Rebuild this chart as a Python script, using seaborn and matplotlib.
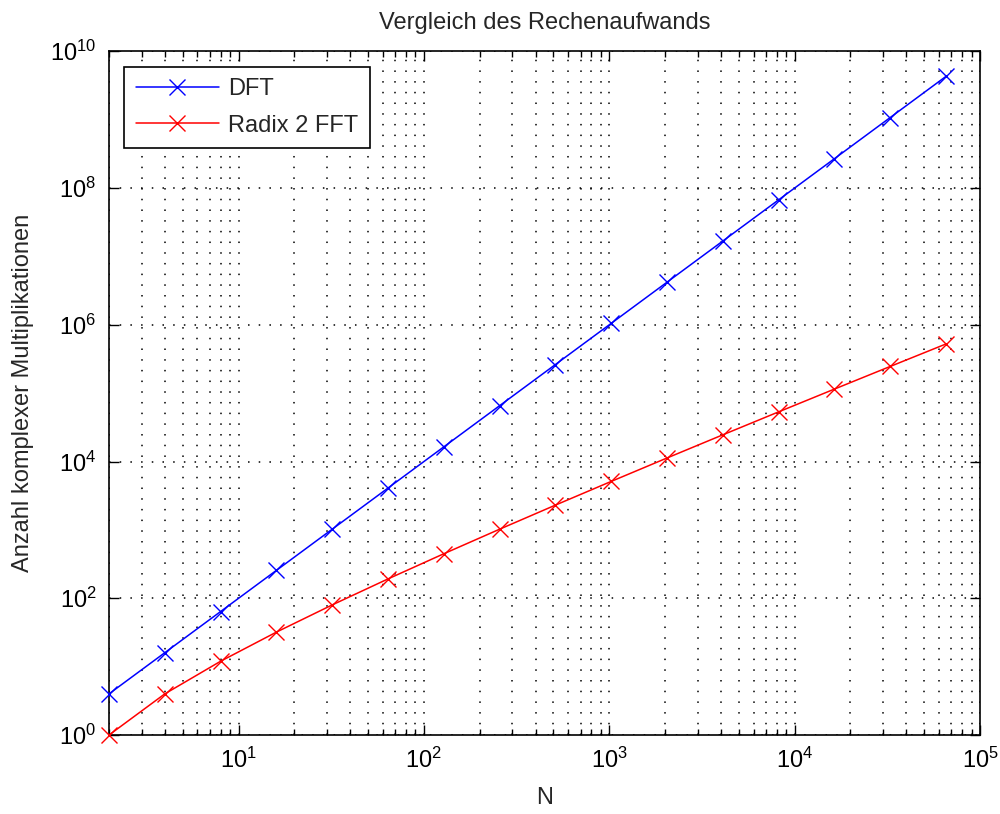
import matplotlib
matplotlib.use("Agg")
import matplotlib.pyplot as plt
import matplotlib.ticker as mticker
import pandas as pd
import seaborn as sns

# Punktanzahl N = 2^1 ... 2^16
n_werte = [2, 4, 8, 16, 32, 64, 128, 256, 512, 1024, 2048, 4096, 8192,
           16384, 32768, 65536]
dft_mult = [4, 16, 64, 256, 1024, 4096, 16384, 65536, 262144, 1048576,
            4194304, 16777216, 67108864, 268435456, 1073741824, 4294967296]
fft_mult = [1, 4, 12, 32, 80, 192, 448, 1024, 2304, 5120, 11264, 24576,
            53248, 114688, 245760, 524288]

reihen = ["DFT", "Radix 2 FFT"]
farben = {"DFT": "#0000ff", "Radix 2 FFT": "#ff0000"}

daten = pd.DataFrame({
    "N": n_werte * 2,
    "mult": dft_mult + fft_mult,
    "verfahren": [reihen[0]] * len(n_werte) + [reihen[1]] * len(n_werte),
})

sns.set_style("ticks")
plt.rcParams["font.family"] = ["Liberation Sans", "DejaVu Sans"]
plt.rcParams["mathtext.fontset"] = "custom"
plt.rcParams["mathtext.rm"] = "Liberation Sans"
plt.rcParams["mathtext.it"] = "Liberation Sans"
plt.rcParams["mathtext.default"] = "regular"

fs = 17

fig = plt.figure(figsize=(10, 8.14), dpi=100)
ax = fig.add_axes([0.109, 0.097, 0.871, 0.84])

sns.lineplot(data=daten, x="N", y="mult", hue="verfahren", palette=farben,
             marker="x", markersize=11, markeredgewidth=1.0, linewidth=1.1,
             ax=ax, legend=False)
# seaborn gibt den Markern weisse Raender -> in Linienfarbe umfaerben
for ln in ax.lines:
    ln.set_markeredgecolor(ln.get_color())
    ln.set_clip_on(False)
    ln.set_zorder(3)

ax.set_xscale("log")
ax.set_yscale("log")
ax.set_xlim(2, 1e5)
ax.set_ylim(1, 1e10)

ax.yaxis.set_major_locator(mticker.FixedLocator([10.0 ** k for k in range(0, 11, 2)]))
ax.yaxis.set_minor_locator(mticker.NullLocator())
ax.xaxis.set_major_locator(mticker.LogLocator(base=10))
ax.xaxis.set_minor_locator(mticker.LogLocator(base=10, subs=range(2, 10)))

ax.grid(True, which="major", axis="both", linestyle=(0, (1, 6)), color="black", linewidth=1.1)
ax.grid(True, which="minor", axis="x", linestyle=(0, (1, 6)), color="black", linewidth=1.1)

ax.tick_params(which="both", direction="in", top=True, right=True, labelsize=fs,
               width=1.0, color="black", labelcolor="black")
ax.tick_params(which="major", length=7, pad=9)
ax.tick_params(which="minor", length=4)
for s in ax.spines.values():
    s.set_linewidth(1.2)
    s.set_color("black")

ax.set_title("Vergleich des Rechenaufwands", fontsize=fs, pad=16)
ax.set_xlabel("N", fontsize=fs, labelpad=10)
ax.set_ylabel("Anzahl komplexer Multiplikationen", fontsize=fs, labelpad=12)

handles = [plt.Line2D([], [], color=farben[r], marker="x", markersize=11, linewidth=1.1)
           for r in reihen]
leg = ax.legend(handles, reihen, loc="upper left", fontsize=17, frameon=True,
                fancybox=False, edgecolor="black", framealpha=1,
                borderaxespad=0.65, handlelength=3.5, handletextpad=0.4,
                borderpad=0.5, labelspacing=0.6)
leg.get_frame().set_linewidth(1.2)
leg.set_zorder(5)

fig.savefig("out.png", dpi=100)
